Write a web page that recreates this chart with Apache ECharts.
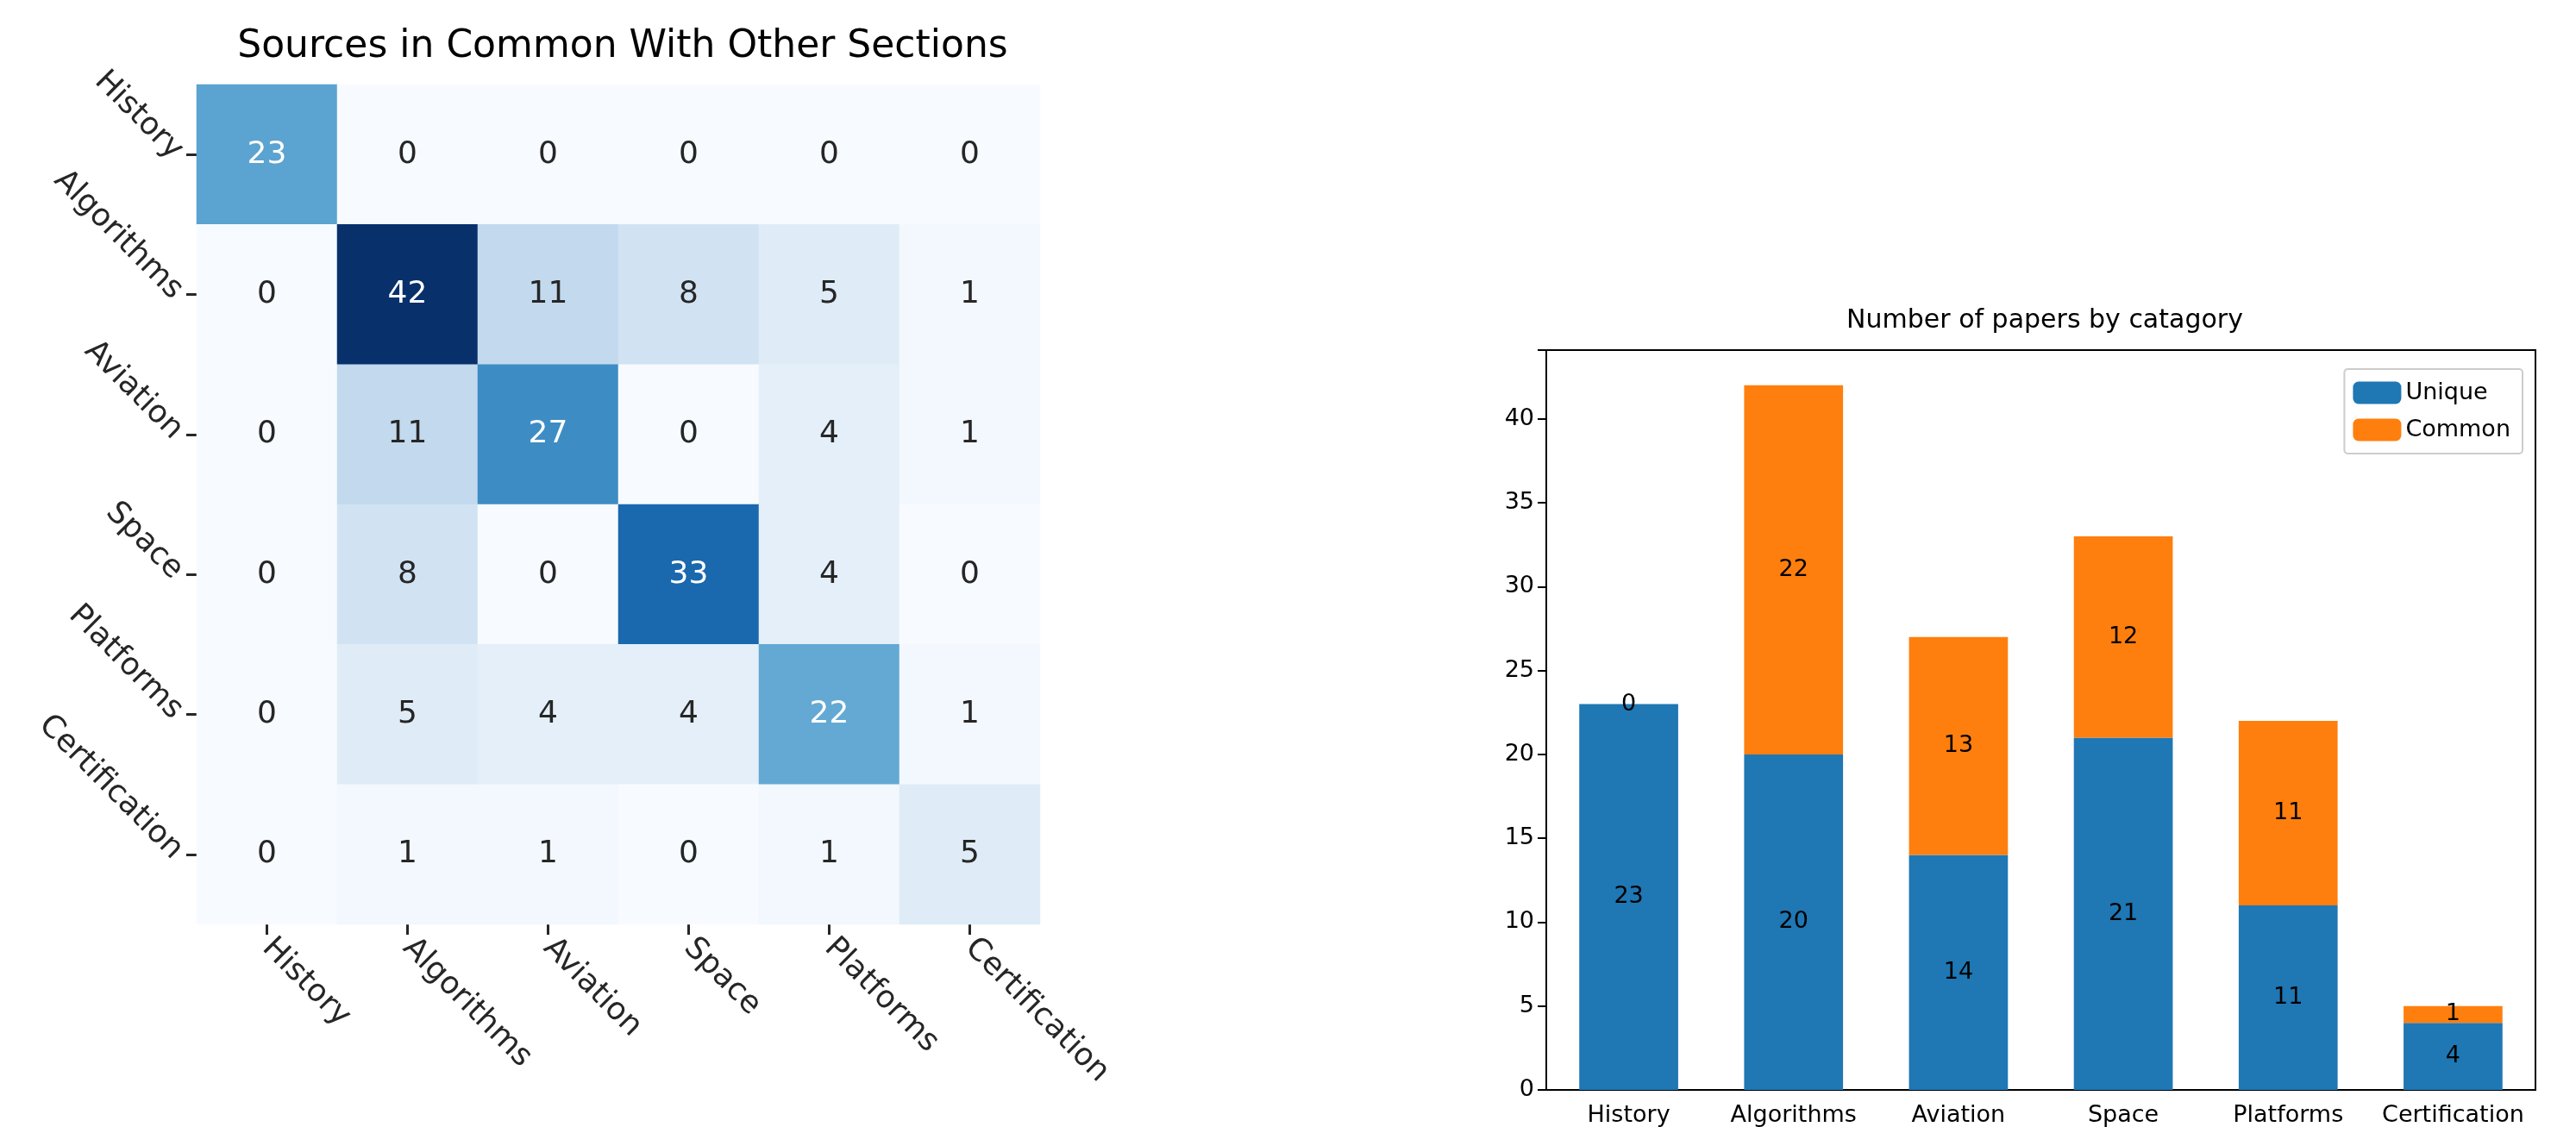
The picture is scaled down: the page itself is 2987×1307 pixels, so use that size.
<!DOCTYPE html>
<html><head><meta charset="utf-8">
<script src="https://cdn.jsdelivr.net/npm/echarts@6/dist/echarts.min.js"></script>
<style>html,body{margin:0;padding:0;background:#fff}#c{width:2987px;height:1307px}</style>
</head><body><div id="c"></div>
<script>
const categories = ["History","Algorithms","Aviation","Space","Platforms","Certification"];
const matrix = [
  [23,0,0,0,0,0],
  [0,42,11,8,5,1],
  [0,11,27,0,4,1],
  [0,8,0,33,4,0],
  [0,5,4,4,22,1],
  [0,1,1,0,1,5]
];
const uniqueVals = [23,20,14,21,11,4];
const commonVals = [0,22,13,12,11,1];
const yTicks = [0,5,10,15,20,25,30,35,40];

const heatData = [];
matrix.forEach((row, r) => row.forEach((v, c) => {
  heatData.push({value:[c, r, v], label:{color: v >= 20 ? '#ffffff' : '#262626'}});
}));
const font = 'DejaVu Sans';
const chart = echarts.init(document.getElementById('c'));
chart.setOption({
  animation:false,
  textStyle:{fontFamily:font},
  title:[
    {text:'Sources in Common With Other Sections', left:717, top:28, textAlign:'center',
     textStyle:{fontSize:44, fontWeight:'normal', color:'#000', fontFamily:font}},
    {text:'Number of papers by catagory', left:2366, top:352, textAlign:'center',
     textStyle:{fontSize:30, fontWeight:'normal', color:'#000', fontFamily:font}}
  ],
  legend:{data:['Unique','Common'], right:62, top:428, orient:'vertical', itemWidth:56, itemHeight:26,
    itemGap:16, padding:[14,14,14,10], borderColor:'#cccccc', borderWidth:2, borderRadius:4,
    textStyle:{fontSize:27, color:'#000', fontFamily:font}},
  visualMap:{show:false, min:0, max:42, seriesIndex:0, dimension:2,
    inRange:{color:['#f7fbff','#deebf7','#c6dbef','#9ecae1','#6baed6','#4292c6','#2171b5','#08519c','#08306b']}},
  grid:[
    {left:228, width:978, top:98, height:974},
    {left:1793, width:1147, top:406, height:1120, show:true, borderColor:'#000', borderWidth:2, backgroundColor:'transparent'}
  ],
  xAxis:[
    {type:'category', gridIndex:0, data:categories, axisLine:{show:false},
     axisTick:{show:true, alignWithLabel:true, length:12, lineStyle:{color:'#262626', width:3}},
     axisLabel:{rotate:-45, fontSize:36, color:'#262626', margin:22, align:'left', verticalAlign:'middle', fontFamily:font},
     splitLine:{show:false}},
    {type:'category', gridIndex:1, data:categories, axisLine:{lineStyle:{color:'#000', width:2}},
     axisTick:{alignWithLabel:true, length:10, lineStyle:{color:'#000', width:2}},
     axisLabel:{fontSize:27, color:'#000', margin:16, fontFamily:font, interval:0}}
  ],
  yAxis:[
    {type:'category', gridIndex:0, data:categories, inverse:true, axisLine:{show:false},
     axisTick:{show:true, alignWithLabel:true, length:12, lineStyle:{color:'#262626', width:3}},
     axisLabel:{rotate:-45, fontSize:36, color:'#262626', margin:22, align:'right', verticalAlign:'middle', fontFamily:font}},
    {type:'value', gridIndex:1, min:0, max:44.1, interval:5, splitLine:{show:false},
     axisLine:{show:true, lineStyle:{color:'#000', width:2}},
     axisTick:{show:true, length:10, lineStyle:{color:'#000', width:2}},
     axisLabel:{fontSize:27, color:'#000', margin:14, fontFamily:font,
       formatter: v => yTicks.includes(v) ? String(v) : ''}}
  ],
  series:[
    {type:'heatmap', xAxisIndex:0, yAxisIndex:0, data:heatData,
     label:{show:true, fontSize:36, fontFamily:font, formatter: p => p.value[2]}},
    {name:'Unique', type:'bar', stack:'s', xAxisIndex:1, yAxisIndex:1, data:uniqueVals, barWidth:'60%',
     itemStyle:{color:'#1f77b4'}, label:{show:true, position:'inside', color:'#000', fontSize:27, fontFamily:font}},
    {name:'Common', type:'bar', stack:'s', xAxisIndex:1, yAxisIndex:1, data:commonVals, barWidth:'60%',
     itemStyle:{color:'#ff7f0e'}, label:{show:true, position:'inside', color:'#000', fontSize:27, fontFamily:font}}
  ]
});
</script></body></html>
